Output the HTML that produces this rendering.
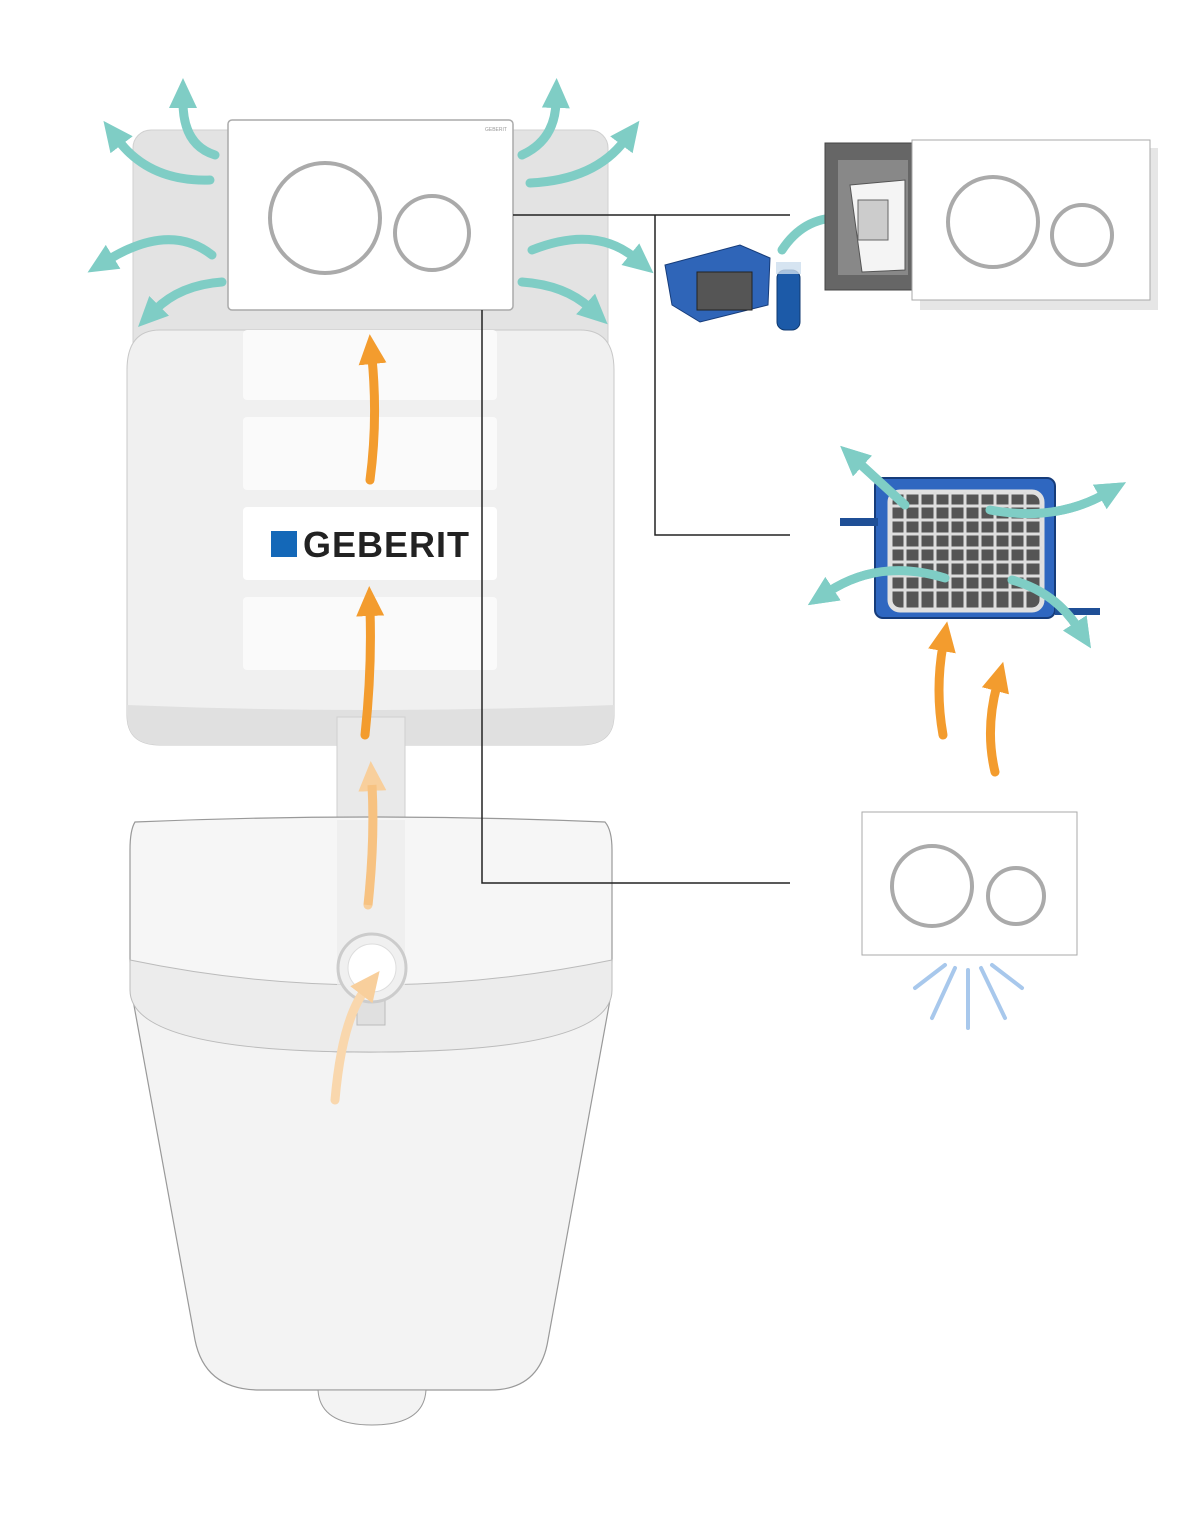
<!DOCTYPE html>
<html><head><meta charset="utf-8"><style>
html,body{margin:0;padding:0;background:#fff;}
svg{display:block;}
</style></head><body>
<svg width="1200" height="1515" viewBox="0 0 1200 1515" xmlns="http://www.w3.org/2000/svg">
<defs>
<marker id="tl" markerUnits="userSpaceOnUse" markerWidth="34" markerHeight="34" refX="6" refY="17" orient="auto"><polygon points="0,3 30,17 0,31" fill="#7fcdc5"/></marker>
<marker id="or" markerUnits="userSpaceOnUse" markerWidth="34" markerHeight="34" refX="6" refY="17" orient="auto"><polygon points="0,3 30,17 0,31" fill="#f39c2e"/></marker>
<marker id="orl" markerUnits="userSpaceOnUse" markerWidth="34" markerHeight="34" refX="6" refY="17" orient="auto"><polygon points="0,3 30,17 0,31" fill="#f8cf9c"/></marker>
</defs>

<!-- cistern back -->
<rect x="133" y="130" width="475" height="240" rx="18" fill="#e3e3e3" stroke="#d0d0d0"/>
<!-- cistern body -->
<path d="M160,330 L580,330 Q614,330 614,370 L614,715 Q614,745 580,745 L405,745 L405,717 L337,717 L337,745 L160,745 Q127,745 127,715 L127,370 Q127,330 160,330Z" fill="#f0f0f0" stroke="#c8c8c8"/>
<path d="M127,705 Q370,715 614,705 L614,715 Q614,745 580,745 L405,745 L405,717 L337,717 L337,745 L160,745 Q127,745 127,715Z" fill="#e0e0e0"/>
<rect x="243" y="330" width="254" height="70" rx="4" fill="#fafafa"/>
<rect x="243" y="417" width="254" height="73" rx="4" fill="#fafafa"/>
<rect x="243" y="507" width="254" height="73" rx="4" fill="#fff"/>
<rect x="243" y="597" width="254" height="73" rx="4" fill="#fafafa"/>
<rect x="271" y="531" width="26" height="26" fill="#1468b8"/>
<text x="303" y="557" font-family="Liberation Sans, sans-serif" font-weight="bold" font-size="36" fill="#222" letter-spacing="1">GEBERIT</text>

<!-- pipe -->
<rect x="337" y="717" width="68" height="300" fill="#e9e9e9" stroke="#cfcfcf"/>

<!-- bowl -->
<path d="M133,1000 L195,1340 Q205,1390 260,1390 L490,1390 Q540,1390 548,1340 L610,1000 Z" fill="#f3f3f3" stroke="#999" stroke-width="1.2"/>
<path d="M318,1390 Q320,1425 372,1425 Q424,1425 426,1390Z" fill="#f3f3f3" stroke="#999"/>
<!-- lid -->
<path d="M135,822 Q370,812 605,822 Q612,830 612,850 L612,960 Q612,1052 370,1052 Q130,1052 130,960 L130,850 Q130,830 135,822Z" fill="#f6f6f6" stroke="#999" stroke-width="1.2"/>
<path d="M130,960 Q370,1010 612,960 L612,990 Q612,1052 370,1052 Q130,1052 130,990Z" fill="#ececec" stroke="#bbb"/>
<rect x="337" y="820" width="68" height="200" fill="#ececec" opacity="0.7"/>
<rect x="357" y="990" width="28" height="35" fill="#e0e0e0" stroke="#bbb"/>
<circle cx="372" cy="968" r="34" fill="#f0f0f0" stroke="#ccc" stroke-width="3"/>
<circle cx="372" cy="968" r="24" fill="#fff" stroke="#ddd"/>

<!-- flush plate -->
<rect x="228" y="120" width="285" height="190" rx="4" fill="#fff" stroke="#aaa" stroke-width="1.5"/>
<circle cx="325" cy="218" r="55" fill="#fff" stroke="#aaa" stroke-width="4"/>
<circle cx="432" cy="233" r="37" fill="#fff" stroke="#aaa" stroke-width="4"/>
<text x="485" y="131" font-family="Liberation Sans, sans-serif" font-size="5" fill="#999">GEBERIT</text>

<!-- connector lines -->
<g stroke="#222" stroke-width="1.5" fill="none">
<path d="M513,215 L790,215 M655,215 L655,535 L790,535 M482,310 L482,883 L790,883"/>
</g>

<!-- teal arrows -->
<g stroke="#7fcdc5" stroke-width="9" fill="none" marker-end="url(#tl)" stroke-linecap="round">
<path d="M215,155 Q183,145 183,102"/>
<path d="M210,180 Q150,182 118,140"/>
<path d="M212,255 Q170,222 108,260"/>
<path d="M222,282 Q180,285 155,310"/>
<path d="M522,155 Q555,140 556,102"/>
<path d="M530,183 Q595,180 625,140"/>
<path d="M532,250 Q595,225 635,258"/>
<path d="M522,282 Q565,285 590,308"/>
<path d="M782,250 Q805,215 845,218"/>
<path d="M905,505 Q880,482 858,462"/>
<path d="M990,510 Q1055,522 1105,494"/>
<path d="M945,578 Q880,558 828,592"/>
<path d="M1012,580 Q1055,592 1078,628"/>
</g>

<!-- orange arrows -->
<g stroke="#f39c2e" stroke-width="9" fill="none" marker-end="url(#or)" stroke-linecap="round">
<path d="M370,480 Q378,420 372,358"/>
<path d="M365,735 Q372,670 370,610"/>
<path d="M943,735 Q935,690 943,645"/>
<path d="M995,772 Q985,730 997,685"/>
</g>
<g stroke="#f8cf9c" stroke-width="9" fill="none" marker-end="url(#orl)" stroke-linecap="round">
<path d="M368,905 Q375,840 372,785"/>
</g>
<path d="M368,905 Q375,840 372,785" stroke="#f39c2e" stroke-width="9" fill="none" opacity="0.25"/>
<g stroke="#f9d7ad" stroke-width="9" fill="none" marker-end="url(#orl)" stroke-linecap="round">
<path d="M335,1100 Q342,1020 365,990"/>
</g>

<!-- right top: frame + plate -->
<rect x="825" y="143" width="95" height="147" fill="#666" stroke="#444"/>
<rect x="838" y="160" width="70" height="115" fill="#888"/>
<path d="M850,185 L905,180 L905,270 L862,272Z" fill="#f4f4f4" stroke="#555"/>
<rect x="858" y="200" width="30" height="40" fill="#ccc" stroke="#666"/>
<rect x="920" y="148" width="238" height="162" fill="#e6e6e6"/>
<rect x="912" y="140" width="238" height="160" fill="#fff" stroke="#aaa"/>
<circle cx="993" cy="222" r="45" fill="#fff" stroke="#aaa" stroke-width="4"/>
<circle cx="1082" cy="235" r="30" fill="#fff" stroke="#aaa" stroke-width="4"/>
<!-- small filter cartridge -->
<path d="M665,265 L740,245 L770,258 L768,305 L700,322 L672,305Z" fill="#2f65b8" stroke="#163c7a"/>
<rect x="697" y="272" width="55" height="38" fill="#555" stroke="#222"/>
<rect x="777" y="270" width="23" height="60" rx="8" fill="#1c5aa8" stroke="#103a70"/>
<rect x="776" y="262" width="25" height="12" fill="#cde" opacity="0.8"/>

<!-- big filter -->
<rect x="875" y="478" width="180" height="140" rx="8" fill="#2f67c0" stroke="#163c7a" stroke-width="2"/>
<rect x="840" y="518" width="38" height="8" fill="#1f4f96"/>
<rect x="1055" y="608" width="45" height="7" fill="#1f4f96"/>
<rect x="890" y="492" width="152" height="118" rx="10" fill="#555" stroke="#e0e0e0" stroke-width="5"/>
<g stroke="#ddd" stroke-width="3">
<path d="M905,492 V610 M920,492 V610 M935,492 V610 M950,492 V610 M965,492 V610 M980,492 V610 M995,492 V610 M1010,492 V610 M1025,492 V610"/>
<path d="M890,506 H1042 M890,520 H1042 M890,534 H1042 M890,548 H1042 M890,562 H1042 M890,576 H1042 M890,590 H1042"/>
</g>
<g stroke="#7fcdc5" stroke-width="9" fill="none" marker-end="url(#tl)" stroke-linecap="round">
<path d="M905,505 Q880,482 858,462"/>
<path d="M990,510 Q1055,522 1105,494"/>
<path d="M945,578 Q880,558 828,592"/>
<path d="M1012,580 Q1055,592 1078,628"/>
</g>

<!-- bottom plate -->
<rect x="862" y="812" width="215" height="143" fill="#fff" stroke="#aaa"/>
<circle cx="932" cy="886" r="40" fill="#fff" stroke="#aaa" stroke-width="4"/>
<circle cx="1016" cy="896" r="28" fill="#fff" stroke="#aaa" stroke-width="4"/>
<g stroke="#a8c8ec" stroke-width="4" stroke-linecap="round">
<line x1="945" y1="965" x2="915" y2="988"/>
<line x1="955" y1="968" x2="932" y2="1018"/>
<line x1="968" y1="970" x2="968" y2="1028"/>
<line x1="981" y1="968" x2="1005" y2="1018"/>
<line x1="992" y1="965" x2="1022" y2="988"/>
</g>
</svg>
</body></html>
